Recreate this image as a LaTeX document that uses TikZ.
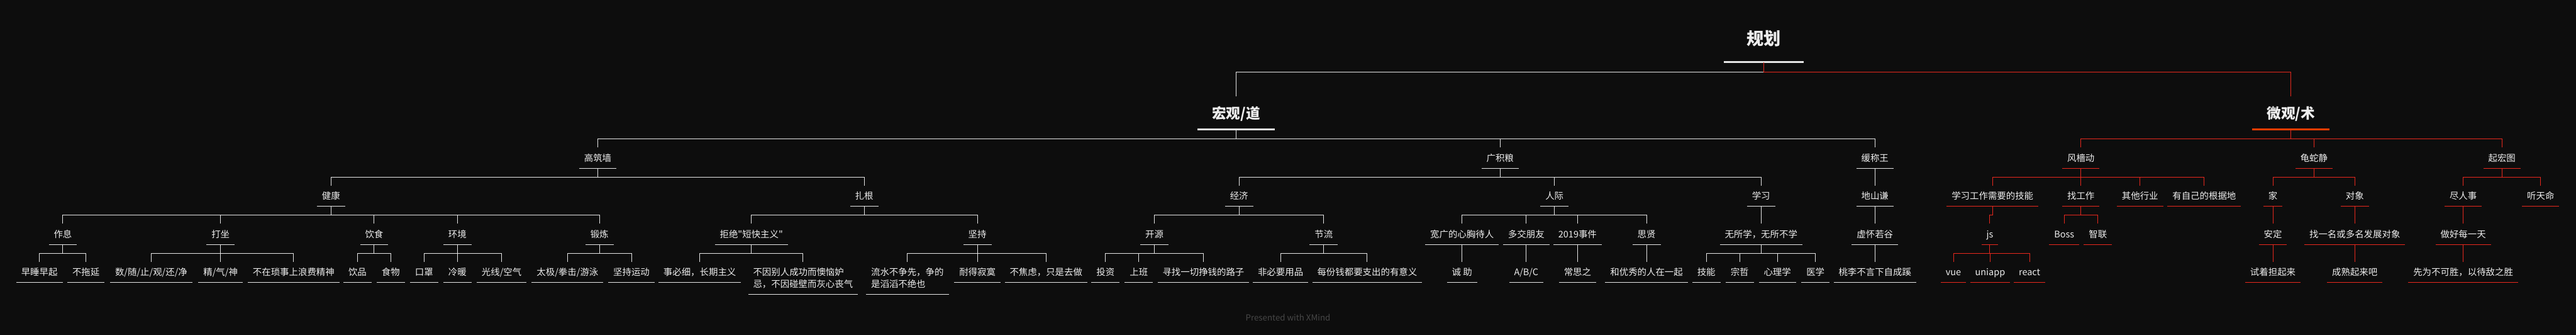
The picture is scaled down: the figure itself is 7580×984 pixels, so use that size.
\documentclass[tikz,border=0pt]{standalone}
\usepackage{fontspec}
\setmainfont{Noto Sans CJK SC}
\newfontfamily\cjkplain{Noto Sans CJK SC}
\usepackage{tikz}
\definecolor{bgdark}{HTML}{0D0D0D}
\definecolor{txtwhite}{HTML}{EEEEEE}
\definecolor{linewhite}{HTML}{E6E6E6}
\definecolor{linered}{HTML}{E8281D}
\definecolor{mainred}{HTML}{FF3D00}
\definecolor{footgray}{HTML}{474747}

\begin{document}
\begin{tikzpicture}[x=0.1mm, y=-0.1mm,
    rootnode/.style={font=\cjkplain\bfseries\fontsize{14.3pt}{17pt}\selectfont, text=txtwhite, text height=12.6pt, text depth=1.7pt, inner ysep=12.5pt, minimum width=66.3pt,
        append after command={(\tikzlastnode.south west) edge[draw=linewhite, line width=1.5pt] (\tikzlastnode.south east)}},
    mainnode/.style={font=\cjkplain\bfseries\fontsize{11.9pt}{14pt}\selectfont, text=txtwhite, anchor=north, text height=10.5pt, text depth=1.4pt, inner ysep=7.6pt, minimum width=64.3pt,
        append after command={(\tikzlastnode.south west) edge[draw=#1, line width=1.6pt] (\tikzlastnode.south east)}},
    mainnode/.default=linewhite,
    topic/.style={font=\cjkplain\fontsize{7.6pt}{9.67pt}\selectfont, text=txtwhite, anchor=north, text height=6.7pt, text depth=0.9pt, inner xsep=4pt, inner ysep=4.74pt,
        append after command={(\tikzlastnode.south west) edge[draw=#1, line width=0.45pt] (\tikzlastnode.south east)}},
    topic/.default=linewhite,
    rtopic/.style={topic=linered},
    twoline/.style={align=left, text height=16.37pt, text depth=0.9pt},
    link/.style={draw=linewhite, line width=0.5pt},
    rlink/.style={draw=linered, line width=0.5pt},
    credit/.style={font=\cjkplain\fontsize{7pt}{8pt}\selectfont, text=footgray}
]
    % Canvas
    \fill [bgdark] (0,0) rectangle (7580,984);
    \useasboundingbox (0,0) rectangle (7580,984);

    % Root and main branches
    \node (root) [rootnode] at (5190,113) {规划};
    \node (hong) [mainnode] at (3637,284) {宏观/道};
    \node (wei) [mainnode=mainred] at (6741,284) {微观/术};

    % Level 2
    \node (gzq) [topic] at (1759,433) {高筑墙};
    \node (gjl) [topic] at (4414,433) {广积粮};
    \node (hcw) [topic] at (5517,433) {缓称王};
    \node (fqd) [rtopic] at (6123,433) {风檣动};
    \node (gsj) [rtopic] at (6809,433) {龟蛇静};
    \node (qht) [rtopic] at (7362,433) {起宏图};

    % Level 3
    \node (jk) [topic] at (974,545) {健康};
    \node (zg) [topic] at (2543,545) {扎根};
    \node (jj) [topic] at (3646,545) {经济};
    \node (rj) [topic] at (4574,545) {人际};
    \node (xx) [topic] at (5182,545) {学习};
    \node (dsq) [topic] at (5517,545) {地山谦};
    \node (xxjn) [rtopic] at (5863,545) {学习工作需要的技能};
    \node (zgz) [rtopic] at (6123,545) {找工作};
    \node (qthy) [rtopic] at (6297,545) {其他行业};
    \node (gjd) [rtopic] at (6486,545) {有自己的根据地};
    \node (jia) [rtopic] at (6688,545) {家};
    \node (dx) [rtopic] at (6929,545) {对象};
    \node (jrs) [rtopic] at (7248,545) {尽人事};
    \node (ttm) [rtopic] at (7476,545) {听天命};

    % Level 4
    \node (zx) [topic] at (185,657) {作息};
    \node (dz) [topic] at (649,657) {打坐};
    \node (ys) [topic] at (1101,657) {饮食};
    \node (hj) [topic] at (1346,657) {环境};
    \node (dl) [topic] at (1764,657) {锻炼};
    \node (jjdk) [topic] at (2211,657) {拒绝"短快主义"};
    \node (jc) [topic] at (2876,657) {坚持};
    \node (ky) [topic] at (3397,657) {开源};
    \node (jl) [topic] at (3895,657) {节流};
    \node (kgxx) [topic] at (4302,657) {宽广的心胸待人};
    \node (djpy) [topic] at (4491,657) {多交朋友};
    \node (sj) [topic] at (4642,657) {2019事件};
    \node (sx) [topic] at (4845,657) {思贤};
    \node (wsx) [topic] at (5182,657) {无所学，无所不学};
    \node (xhrg) [topic] at (5517,657) {虚怀若谷};
    \node (js) [rtopic] at (5855,657) {js};
    \node (boss) [rtopic] at (6074,657) {Boss};
    \node (zl) [rtopic] at (6173,657) {智联};
    \node (ad) [rtopic] at (6688,657) {安定};
    \node (zyfz) [rtopic] at (6929,657) {找一名或多名发展对象};
    \node (zhmyt) [rtopic] at (7248,657) {做好每一天};

    % Level 5
    \node (zsqq) [topic] at (116,769) {早睡早起};
    \node (bty) [topic] at (253,769) {不拖延};
    \node (ssz) [topic] at (445,769) {数/随/止/观/还/净};
    \node (jqs) [topic] at (649,769) {精/气/神};
    \node (bzss) [topic] at (864,769) {不在琐事上浪费精神};
    \node (yp) [topic] at (1052,769) {饮品};
    \node (sw) [topic] at (1150,769) {食物};
    \node (kz) [topic] at (1248,769) {口罩};
    \node (ln) [topic] at (1346,769) {冷暖};
    \node (gxkq) [topic] at (1476,769) {光线/空气};
    \node (tjqj) [topic] at (1670,769) {太极/拳击/游泳};
    \node (jcyd) [topic] at (1858,769) {坚持运动};
    \node (sbx) [topic] at (2059,769) {事必细，长期主义};
    \node (byb) [topic, twoline] at (2363,769) {不因别人成功而懊恼妒\\忌，不因碰壁而灰心丧气};
    \node (lsbz) [topic, twoline] at (2670,769) {流水不争先，争的\\是滔滔不绝也};
    \node (ndjm) [topic] at (2876,769) {耐得寂寞};
    \node (bjl) [topic] at (3078,769) {不焦虑，只是去做};
    \node (tz) [topic] at (3253,769) {投资};
    \node (sb) [topic] at (3351,769) {上班};
    \node (xzyq) [topic] at (3541,769) {寻找一切挣钱的路子};
    \node (fbyy) [topic] at (3768,769) {非必要用品};
    \node (mfq) [topic] at (4023,769) {每份钱都要支出的有意义};
    \node (cz) [topic] at (4302,769) {诚 助};
    \node (abc) [topic] at (4491,769) {A/B/C};
    \node (csz) [topic] at (4642,769) {常思之};
    \node (hyx) [topic] at (4845,769) {和优秀的人在一起};
    \node (jn) [topic] at (5021,769) {技能};
    \node (zz) [topic] at (5119,769) {宗哲};
    \node (xlx) [topic] at (5230,769) {心理学};
    \node (yx) [topic] at (5342,769) {医学};
    \node (tlby) [topic] at (5517,769) {桃李不言下自成蹊};
    \node (vue) [rtopic] at (5748,769) {vue};
    \node (uni) [rtopic] at (5856,769) {uniapp};
    \node (react) [rtopic] at (5972,769) {react};
    \node (zqdq) [rtopic] at (6688,769) {试着担起来};
    \node (csql) [rtopic] at (6929,769) {成熟起来吧};
    \node (xwbk) [rtopic] at (7248,769) {先为不可胜，以待敌之胜};

    % Footer
    \node (xmind) [credit] at (3790,933) {Presented with XMind};

    % Connectors: root and main branches
    \draw [link] (root.south) -- ++(0,29) -| (hong.north);
    \draw [rlink] (root.south) -- ++(0,29) -| (wei.north);
    \foreach \c in {gzq,gjl,hcw} \draw [link] (hong.south) -- ++(0,28) -| (\c.north);
    \foreach \c in {fqd,gsj,qht} \draw [rlink] (wei.south) -- ++(0,28) -| (\c.north);

    % Connectors: 宏观/道
    \foreach \c in {jk,zg} \draw [link] (gzq.south) -- ++(0,26) -| (\c.north);
    \foreach \c in {jj,rj,xx} \draw [link] (gjl.south) -- ++(0,26) -| (\c.north);
    \draw [link] (hcw.south) -- ++(0,26) -| (dsq.north);
    \foreach \c in {zx,dz,ys,hj,dl} \draw [link] (jk.south) -- ++(0,26) -| (\c.north);
    \foreach \c in {jjdk,jc} \draw [link] (zg.south) -- ++(0,26) -| (\c.north);
    \foreach \c in {ky,jl} \draw [link] (jj.south) -- ++(0,26) -| (\c.north);
    \foreach \c in {kgxx,djpy,sj,sx} \draw [link] (rj.south) -- ++(0,26) -| (\c.north);
    \draw [link] (xx.south) -- ++(0,26) -| (wsx.north);
    \draw [link] (dsq.south) -- ++(0,26) -| (xhrg.north);
    \foreach \c in {zsqq,bty} \draw [link] (zx.south) -- ++(0,26) -| (\c.north);
    \foreach \c in {ssz,jqs,bzss} \draw [link] (dz.south) -- ++(0,26) -| (\c.north);
    \foreach \c in {yp,sw} \draw [link] (ys.south) -- ++(0,26) -| (\c.north);
    \foreach \c in {kz,ln,gxkq} \draw [link] (hj.south) -- ++(0,26) -| (\c.north);
    \foreach \c in {tjqj,jcyd} \draw [link] (dl.south) -- ++(0,26) -| (\c.north);
    \foreach \c in {sbx,byb} \draw [link] (jjdk.south) -- ++(0,26) -| (\c.north);
    \foreach \c in {lsbz,ndjm,bjl} \draw [link] (jc.south) -- ++(0,26) -| (\c.north);
    \foreach \c in {tz,sb,xzyq} \draw [link] (ky.south) -- ++(0,26) -| (\c.north);
    \foreach \c in {fbyy,mfq} \draw [link] (jl.south) -- ++(0,26) -| (\c.north);
    \draw [link] (kgxx.south) -- ++(0,26) -| (cz.north);
    \draw [link] (djpy.south) -- ++(0,26) -| (abc.north);
    \draw [link] (sj.south) -- ++(0,26) -| (csz.north);
    \draw [link] (sx.south) -- ++(0,26) -| (hyx.north);
    \foreach \c in {jn,zz,xlx,yx} \draw [link] (wsx.south) -- ++(0,26) -| (\c.north);
    \draw [link] (xhrg.south) -- ++(0,26) -| (tlby.north);

    % Connectors: 微观/术
    \foreach \c in {xxjn,zgz,qthy,gjd} \draw [rlink] (fqd.south) -- ++(0,26) -| (\c.north);
    \foreach \c in {jia,dx} \draw [rlink] (gsj.south) -- ++(0,26) -| (\c.north);
    \foreach \c in {jrs,ttm} \draw [rlink] (qht.south) -- ++(0,26) -| (\c.north);
    \draw [rlink] (xxjn.south) -- ++(0,26) -| (js.north);
    \foreach \c in {boss,zl} \draw [rlink] (zgz.south) -- ++(0,26) -| (\c.north);
    \draw [rlink] (jia.south) -- ++(0,26) -| (ad.north);
    \draw [rlink] (dx.south) -- ++(0,26) -| (zyfz.north);
    \draw [rlink] (jrs.south) -- ++(0,26) -| (zhmyt.north);
    \foreach \c in {vue,uni,react} \draw [rlink] (js.south) -- ++(0,26) -| (\c.north);
    \draw [rlink] (ad.south) -- ++(0,26) -| (zqdq.north);
    \draw [rlink] (zyfz.south) -- ++(0,26) -| (csql.north);
    \draw [rlink] (zhmyt.south) -- ++(0,26) -| (xwbk.north);
\end{tikzpicture}
\end{document}
